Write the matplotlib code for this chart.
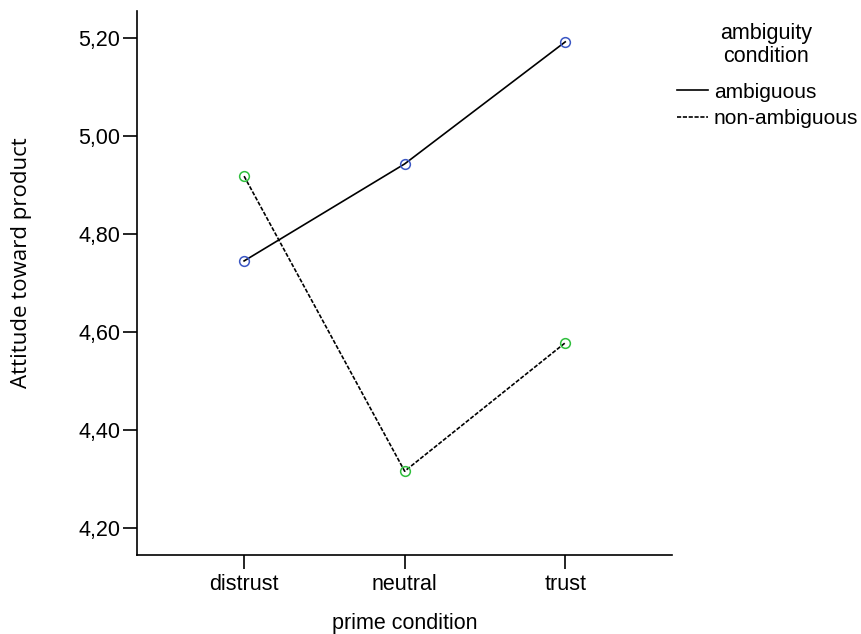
import numpy as np
import matplotlib
matplotlib.use('Agg')
import matplotlib.pyplot as plt

# data
prime = ['distrust', 'neutral', 'trust']
ambiguous = [4.745, 4.943, 5.192]
non_ambiguous = [4.918, 4.316, 4.578]
yticks = [4.20, 4.40, 4.60, 4.80, 5.00, 5.20]

plt.rcParams['font.family'] = ['Liberation Sans', 'DejaVu Sans']

fig = plt.figure(figsize=(8.61, 6.34), dpi=100)
ax = fig.add_axes([137 / 861, 1 - 555 / 634, (672 - 137) / 861, (555 - 11) / 634])

x = np.arange(len(prime))
l1, = ax.plot(x, ambiguous, color='black', lw=1.2, ls='-')
l2, = ax.plot(x, non_ambiguous, color='black', lw=1.2, ls=(0, (2.5, 1.0)))
ax.plot(x, ambiguous, ls='none', marker='o', ms=7, mfc='none', mec='#3b57c4', mew=1.1)
ax.plot(x, non_ambiguous, ls='none', marker='o', ms=7, mfc='none', mec='#2fbf3d', mew=1.1)

ax.set_xlim(-0.667, 2.665)
ax.set_ylim(4.145, 5.255)
ax.set_xticks(x)
ax.set_xticklabels(prime, fontsize=15.5)
ax.set_yticks(yticks)
ax.set_yticklabels([f'{v:.2f}'.replace('.', ',') for v in yticks], fontsize=15.5)
ax.tick_params(axis='both', direction='out', length=10, width=1.2, color='black')
ax.tick_params(axis='x', pad=4)
ax.tick_params(axis='y', pad=2)

for s in ['top', 'right']:
    ax.spines[s].set_visible(False)
for s in ['left', 'bottom']:
    ax.spines[s].set_linewidth(1.2)

ax.set_xlabel('prime condition', fontsize=15.5, labelpad=13)
ax.set_ylabel('Attitude toward product', fontsize=16, family='Open Sans')
ax.yaxis.set_label_coords(-0.197, 0.537)

# legend title drawn separately so the gap above the entries matches
fig.text(766 / 861, 1 - 45 / 634, 'ambiguity\ncondition', ha='center', va='center',
         fontsize=15.5, linespacing=1.15)
leg = fig.legend([l1, l2], ['ambiguous', 'non-ambiguous'],
                 loc='upper left', bbox_to_anchor=(662 / 861, 1 - 68 / 634), frameon=False,
                 fontsize=15, handlelength=1.5, handletextpad=0.28,
                 labelspacing=0.38, borderpad=0.2)

fig.savefig('out.png', dpi=100)
